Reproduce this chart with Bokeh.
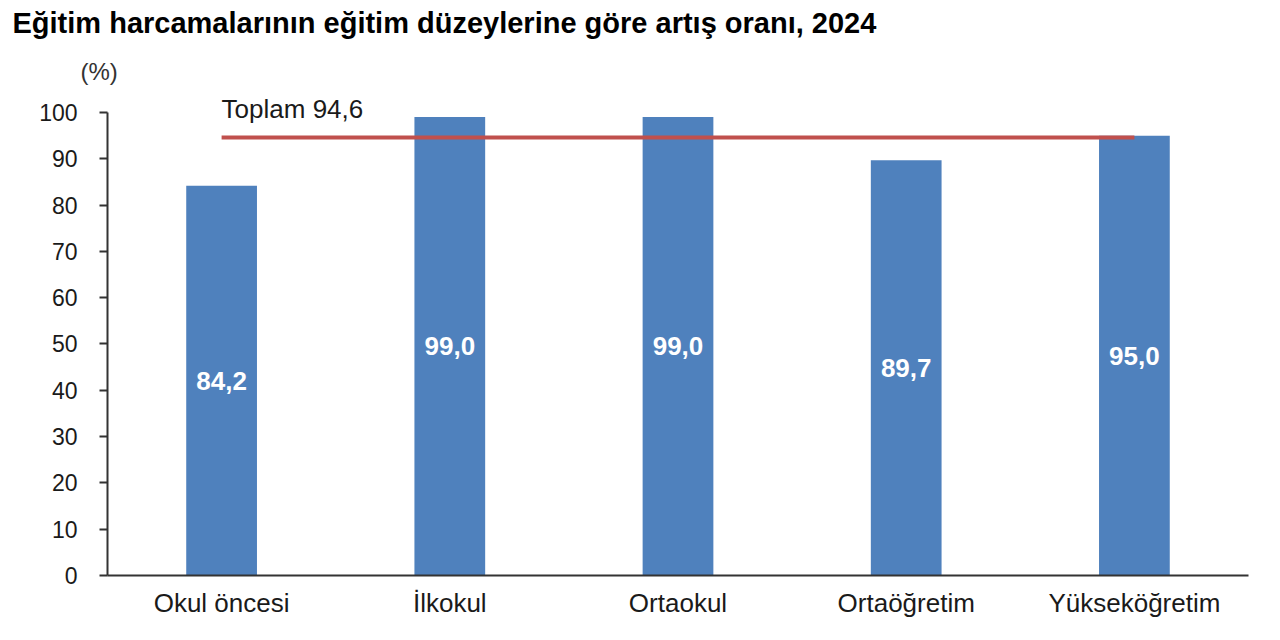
from bokeh.plotting import figure
from bokeh.models import ColumnDataSource, FactorRange, Range1d, LabelSet, FixedTicker, Title
from bokeh.core.properties import value
from bokeh.embed import file_html
from bokeh.resources import INLINE

title_text = "Eğitim harcamalarının eğitim düzeylerine göre artış oranı, 2024"
unit_text = "(%)"
categories = ["Okul öncesi", "İlkokul", "Ortaokul", "Ortaöğretim", "Yükseköğretim"]
values = [84.2, 99.0, 99.0, 89.7, 95.0]
total_value = 94.6
total_label = "Toplam"
y_ticks = [0, 10, 20, 30, 40, 50, 60, 70, 80, 90, 100]

FONT = "Liberation Sans"
TEXT = "#1a1a1a"
BAR = "#4F81BD"
RED = "#C0504D"

src = ColumnDataSource(dict(
    cat=categories,
    val=values,
    mid=[v / 2 for v in values],
    lbl=[f"{v:.1f}".replace(".", ",") for v in values],
))

p = figure(
    width=1264, height=624, title=None,
    x_range=FactorRange(factors=categories, range_padding=0),
    y_range=Range1d(0, 103.02),
    output_backend="svg", toolbar_location=None,
    min_border_left=107, min_border_right=16,
    min_border_top=98, min_border_bottom=49,
)
p.outline_line_color = None
p.xgrid.grid_line_color = None
p.ygrid.grid_line_color = None
p.background_fill_color = "white"

p.vbar(x="cat", top="val", width=0.31, source=src, fill_color=BAR, line_color=None)
p.line(x=[categories[0], categories[-1]], y=[total_value, total_value],
       line_color=RED, line_width=4)

labels = LabelSet(x="cat", y="mid", text="lbl", source=src,
                  text_color="white", text_font=value(FONT), text_font_style="bold",
                  text_font_size="26px", text_align="center", text_baseline="middle")
p.add_layout(labels)

p.text(x=[categories[0]], y=[100.86],
       text=[f"{total_label} {total_value:.1f}".replace(".", ",")],
       text_font=value(FONT), text_font_size="26px", text_color=TEXT,
       text_baseline="middle", text_align="left")

# axes
ya = p.yaxis[0]
ya.ticker = FixedTicker(ticks=y_ticks)
ya.bounds = (0, 100)
ya.axis_line_color = "#333333"
ya.axis_line_width = 2
ya.major_tick_line_color = "#333333"
ya.major_tick_line_width = 2
ya.major_tick_out = 8
ya.major_tick_in = 0
ya.minor_tick_line_color = None
ya.major_label_text_font = FONT
ya.major_label_text_font_size = "23px"
ya.major_label_text_color = TEXT
ya.major_label_standoff = 22

xa = p.xaxis[0]
xa.axis_line_color = "#333333"
xa.axis_line_width = 2
xa.major_tick_line_color = None
xa.minor_tick_line_color = None
xa.major_label_text_font = FONT
xa.major_label_text_font_size = "26px"
xa.major_label_text_color = TEXT
xa.major_label_standoff = 6

p.add_layout(Title(text=unit_text, align="left", offset=-27, standoff=27,
                   text_font=FONT, text_font_size="24px", text_font_style="normal",
                   text_color="#333333"), "above")
p.add_layout(Title(text=title_text, align="left", offset=-95, standoff=7,
                   text_font=FONT, text_font_size="29px", text_font_style="bold",
                   text_color="#000000"), "above")

open("out.html", "w").write(file_html(p, INLINE))
